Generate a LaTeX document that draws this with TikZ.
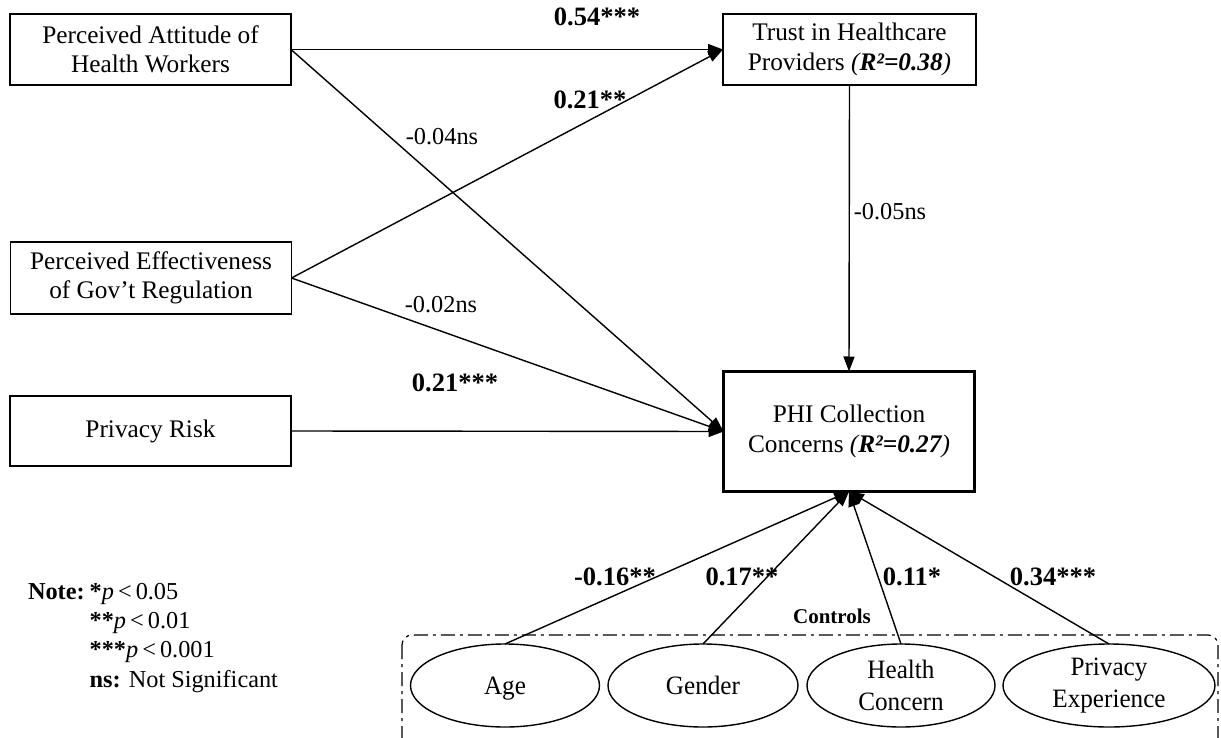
\documentclass[tikz,border=0pt]{standalone}
\usepackage{fontspec}
\setmainfont{Liberation Serif}
\usetikzlibrary{arrows.meta,shapes.geometric}
\begin{document}
\begin{tikzpicture}[x=1pt,y=-1pt,
  every node/.style={inner sep=0pt, outer sep=0pt},
  varbox/.style={draw, line width=1.4pt, minimum width=281pt, minimum height=71pt,
    align=center, font=\fontsize{25.3}{29.5}\selectfont},
  dvbox/.style={draw, line width=3pt, minimum width=251pt, minimum height=120pt,
    align=center, font=\fontsize{25.3}{30}\selectfont},
  ctrl/.style={draw, ellipse, line width=1.4pt, minimum height=83pt,
    align=center, font=\fontsize{26.5}{32}\selectfont\addfontfeature{FakeStretch=0.95}},
  oneline/.style={text height=17pt, text depth=-5pt},
  link/.style={draw, line width=1.4pt, -{Triangle[length=15pt,width=11pt]}},
  coef/.style={font=\fontsize{24.3}{28}\selectfont},
  sig/.style={font=\bfseries\fontsize{26.5}{30}\selectfont},
  grp/.style={font=\bfseries\fontsize{21}{25}\selectfont},
  grpframe/.style={draw, line width=1.2pt, rounded corners=10pt,
    dash pattern=on 14pt off 5pt on 3pt off 5pt},
]
\useasboundingbox (0,0) rectangle (1221,738);

% constructs
\node[varbox] (att)   at (150.5,49.5) {Perceived Attitude of\\Health Workers};
\node[varbox, minimum height=72pt] (eff) at (151,278) {Perceived Effectiveness\\of Gov’t Regulation};
\node[varbox, minimum height=70pt] (risk) at (150.5,431) {Privacy Risk};
\node[varbox, minimum width=253pt] (trust) at (849.5,49.5)
  {Trust in Healthcare\\Providers \textit{(\textbf{R²=0.38})}};
\node[dvbox] (phi) at (849,431.5)
  {PHI Collection\\Concerns \textit{(\textbf{R²=0.27})}};

% control variables
\begin{scope}
  \clip (0,0) rectangle (1221,738);
  \draw[grpframe] (402,635) rectangle (1218,775);
\end{scope}
\node[grp] (ctrlabel) at (832,616) {Controls};
\node[ctrl, oneline, minimum width=189pt] (age)    at (505,685.5) {Age};
\node[ctrl, oneline, minimum width=190pt] (gender) at (703,685.5) {Gender};
\node[ctrl, minimum width=188pt] (health) at (901,685.5) {Health\\Concern};
\node[ctrl, minimum width=212pt] (privexp) at (1109,685.5) {Privacy\\Experience};

% structural paths
\draw[link] (att.east) -- (trust.west);
\draw[link] (eff.east) -- (trust.west);
\draw[link] (att.east) -- (phi.west);
\draw[link] (eff.east) -- (phi.west);
\draw[link] (risk.east) -- (phi.west);
\draw[link] (trust.south) -- (phi.north);
\draw[link] (age.north) -- (phi.south);
\draw[link] (gender.north) -- (phi.south);
\draw[link] (health.north) -- (phi.south);
\draw[link] (privexp.north) -- (phi.south);

% path coefficients
\node[sig]  (c1) at (597,17)  {0.54***};
\node[sig]  (c2) at (590,100) {0.21**};
\node[coef] (c3) at (442,137) {-0.04ns};
\node[coef] (c4) at (890,212) {-0.05ns};
\node[coef] (c5) at (441,305) {-0.02ns};
\node[sig]  (c6) at (455,383) {0.21***};
\node[sig]  (c7) at (615,577) {-0.16**};
\node[sig]  (c8) at (742,577) {0.17**};
\node[sig]  (c9) at (912,577) {0.11*};
\node[sig]  (c10) at (1053,577) {0.34***};

% significance legend
\node[anchor=west, font=\fontsize{24.3}{29.2}\selectfont] (note) at (28,637.5)
{\begin{tabular}{@{}l@{\hspace{5pt}}l@{}}
\textbf{Note:} & \textbf{*}\textit{p}\,<\,0.05\\
 & \textbf{**}\textit{p}\,<\,0.01\\
 & \textbf{***}\textit{p}\,<\,0.001\\
 & \textbf{ns:} Not Significant
\end{tabular}};
\end{tikzpicture}
\end{document}
